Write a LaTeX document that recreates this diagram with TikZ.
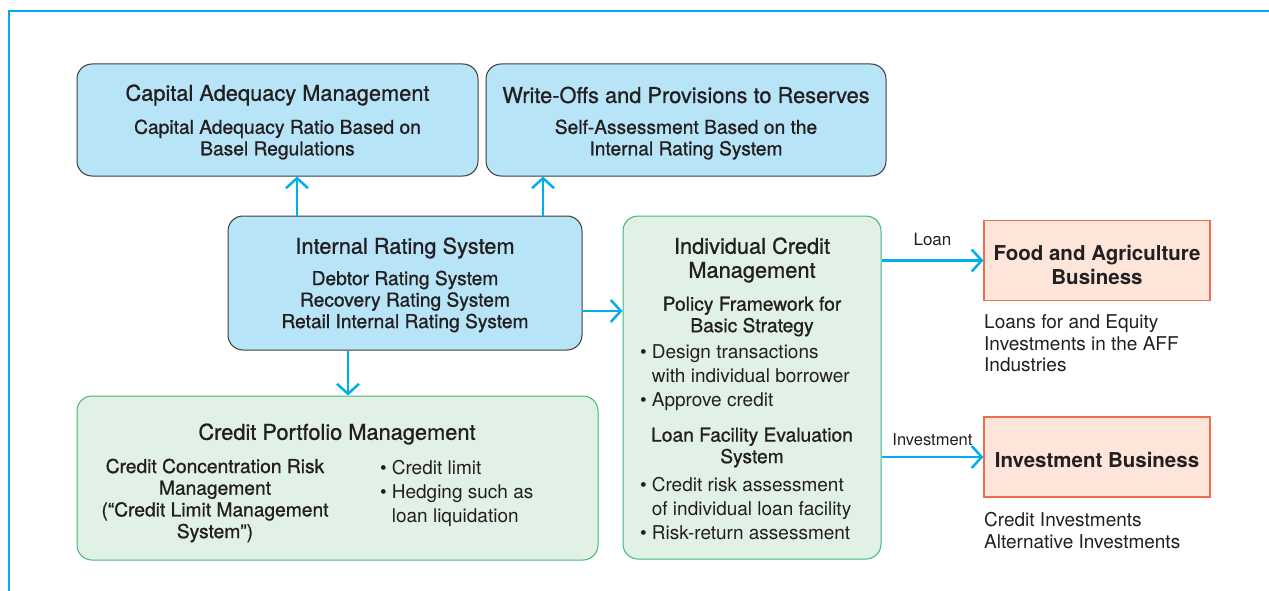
\documentclass[tikz,border=0pt]{standalone}
\usepackage{fontspec}
\setmainfont{TeX Gyre Heros}
\newfontfamily\medfont[FakeBold=0.9]{TeX Gyre Heros}
\usetikzlibrary{arrows.meta,positioning}

\definecolor{arrowcyan}{HTML}{00AEEF}
\definecolor{bluefill}{HTML}{B8E4F8}
\definecolor{boxline}{HTML}{3C3C3C}
\definecolor{greenfill}{HTML}{E1F1E6}
\definecolor{greenline}{HTML}{3DB97B}
\definecolor{salmonfill}{HTML}{FDE5DA}
\definecolor{salmonline}{HTML}{F26A4F}
\definecolor{inkgray}{HTML}{231F20}

\begin{document}
\begin{tikzpicture}[x=1pt, y=-1pt, text=inkgray,
	box/.style={draw, line width=1pt, rounded corners=15pt, inner sep=0pt},
	bluebox/.style={box, draw=boxline, fill=bluefill},
	greenbox/.style={box, draw=greenline, fill=greenfill},
	bizbox/.style={draw=salmonline, fill=salmonfill, line width=1.2pt, inner sep=0pt},
	head/.style={inner sep=0pt, yshift=-2pt, align=center, font=\medfont\fontsize{21.8}{24}\selectfont},
	sub/.style={inner sep=0pt, yshift=-2pt, align=center, font=\medfont\fontsize{19.2}{21.5}\selectfont},
	plain/.style={inner sep=0pt, yshift=-2pt, align=left, font=\fontsize{19}{24}\selectfont},
	biz/.style={inner sep=0pt, align=center, font=\fontsize{20.5}{24}\selectfont\bfseries},
	note/.style={inner sep=0pt, anchor=west, align=left, font=\fontsize{19}{21.5}\selectfont},
	flow/.style={draw=arrowcyan, line width=2.5pt, -{Straight Barb[length=10pt,width=22pt]}},
	]

	\useasboundingbox (0,0) rectangle (1269,591);

	% frame
	\draw[arrowcyan, line width=2pt] (1269,11) -- (9,11) -- (9,591);

	% boxes
	\node[bluebox, minimum width=401, minimum height=112] (cap) at (277.5,120) {};
	\node[bluebox, minimum width=400, minimum height=112] (wo) at (686,120) {};
	\node[bluebox, minimum width=354, minimum height=134] (irs) at (405,283) {};
	\node[greenbox, minimum width=258, minimum height=343] (icm) at (752,387.5) {};
	\node[greenbox, minimum width=521, minimum height=164] (cpm) at (337.5,478) {};
	\node[bizbox, minimum width=226, minimum height=80] (food) at (1097,260.5) {};
	\node[bizbox, minimum width=226, minimum height=80] (inv) at (1097,457) {};

	% capital adequacy / write-offs
	\node[head] (cap-t) at (277.5,93) {Capital Adequacy Management};
	\node[sub] (cap-s) at (277.5,137.5) {Capital Adequacy Ratio Based on\\Basel Regulations};
	\node[head] (wo-t) at (686,93) {Write-Offs and Provisions to Reserves};
	\node[sub] (wo-s) at (686,137.5) {Self-Assessment Based on the\\Internal Rating System};

	% internal rating system
	\node[head] (irs-t) at (405,246) {Internal Rating System};
	\node[sub] (irs-s) at (405,299.5) {Debtor Rating System\\Recovery Rating System\\Retail Internal Rating System};

	% individual credit management
	\node[head] (icm-t) at (752,258) {Individual Credit\\Management};
	\node[sub] (icm-p) at (752,314.5) {Policy Framework for\\Basic Strategy};
	\node[plain, anchor=west] (icm-b1) at (640,376) {\textbullet\hspace{5pt}Design transactions\\
		\phantom{\textbullet\hspace{5pt}}with individual borrower\\\textbullet\hspace{5pt}Approve credit};
	\node[sub] (icm-l) at (752,445.5) {Loan Facility Evaluation\\System};
	\node[plain, anchor=west] (icm-b2) at (640,507) {\textbullet\hspace{5pt}Credit risk assessment\\
		\phantom{\textbullet\hspace{5pt}}of individual loan facility\\\textbullet\hspace{5pt}Risk-return assessment};

	% credit portfolio management
	\node[head] (cpm-t) at (337,432) {Credit Portfolio Management};
	\node[sub, font=\medfont\fontsize{19.2}{21.7}\selectfont] (cpm-s) at (215,498.5)
		{Credit Concentration Risk\\Management\\(“Credit Limit Management\\System”)};
	\node[plain, anchor=west] (cpm-b) at (380,491) {\textbullet\hspace{5pt}Credit limit\\
		\textbullet\hspace{5pt}Hedging such as\\\phantom{\textbullet\hspace{5pt}}loan liquidation};

	% businesses
	\node[biz] (food-t) at (1097,265) {Food and Agriculture\\Business};
	\node[biz] (inv-t) at (1097,460) {Investment Business};
	\node[note] (food-n) at (984,343.5) {Loans for and Equity\\Investments in the AFF\\Industries};
	\node[note] (inv-n) at (984,530.5) {Credit Investments\\Alternative Investments};

	% connectors
	\coordinate (up1) at (297,0);
	\coordinate (up2) at (543,0);
	\coordinate (dn) at (348,0);
	\coordinate (side) at (0,311);
	\draw[flow] (irs.north -| up1) -- (cap.south -| up1);
	\draw[flow] (irs.north -| up2) -- (wo.south -| up2);
	\draw[flow] (irs.south -| dn) -- (cpm.north -| dn);
	\draw[flow] (irs.east |- side) -- (icm.west |- side);
	\draw[flow] (icm.east |- food.west) -- (food.west)
		node[midway, above=13pt, inner sep=0pt, font=\fontsize{17}{20}\selectfont] (loan-l) {Loan};
	\draw[flow] (icm.east |- inv.west) -- (inv.west)
		node[midway, above=10pt, inner sep=0pt, font=\fontsize{16.5}{20}\selectfont] (inv-l) {Investment};

\end{tikzpicture}
\end{document}
